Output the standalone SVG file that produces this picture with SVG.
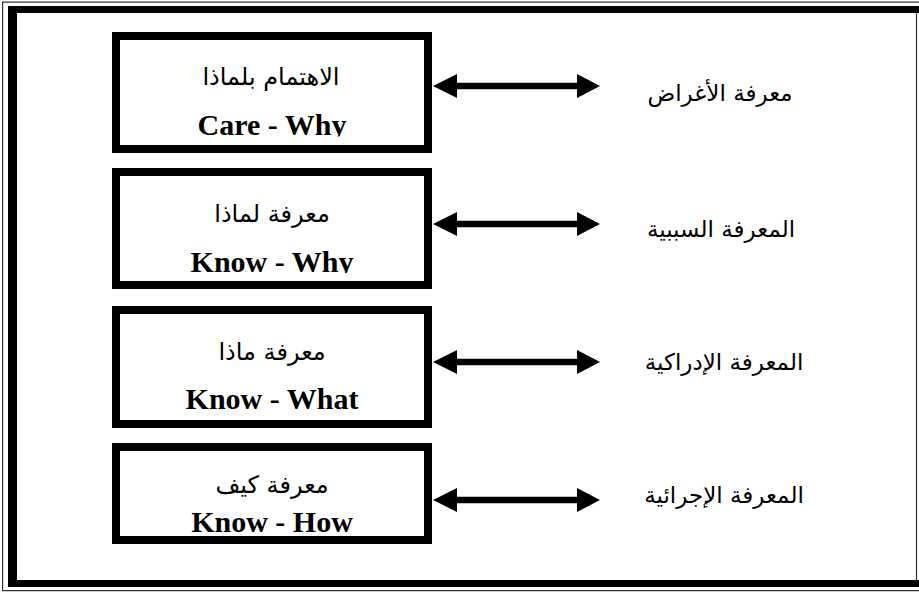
<svg xmlns="http://www.w3.org/2000/svg" width="919" height="594" viewBox="0 0 919 594">
<style>
.box{fill:none;stroke:#000;stroke-width:8}
.ar{font-family:"DejaVu Sans",sans-serif;font-size:24px;fill:#000;text-anchor:middle}
.en{font-family:"Liberation Serif","Times New Roman",serif;font-size:30px;font-weight:bold;fill:#000;text-anchor:middle}
.lbl{font-family:"DejaVu Sans",sans-serif;font-size:23px;fill:#000;text-anchor:middle}
.thin{fill:none;stroke:#333;stroke-width:1.2}
</style>
<defs>
<path id="arr" d="M433,0 L457,-12 L457,-3.3 L577,-3.3 L577,-12 L600,0 L577,12 L577,3.3 L457,3.3 L457,12 Z" fill="#000"/>
<clipPath id="c1"><rect x="120" y="40" width="304" height="96.5"/></clipPath>
<clipPath id="c2"><rect x="120" y="176" width="304" height="97"/></clipPath>
</defs>
<rect width="919" height="594" fill="#fff"/>
<g id="frame">
<path class="thin" d="M930,2.2 L2.6,2.2 L2.6,590.6 L930,590.6"/>
<rect x="8" y="6" width="920" height="7" fill="#000"/>
<rect x="8" y="6" width="9" height="581" fill="#000"/>
<rect x="8" y="580" width="920" height="7" fill="#000"/>
<line class="thin" x1="916.5" y1="13" x2="916.5" y2="580"/>
</g>
<g id="node1">
<text class="ar" x="271" y="85">الاهتمام بلماذا</text>
<text class="en" x="272" y="135" clip-path="url(#c1)">Care - Why</text>
<rect class="box" x="116" y="36" width="312" height="113"/>
</g>
<g id="node2">
<text class="ar" x="272" y="222">معرفة لماذا</text>
<text class="en" x="272" y="272" clip-path="url(#c2)">Know - Why</text>
<rect class="box" x="116" y="172" width="312" height="113"/>
</g>
<g id="node3">
<text class="ar" x="272" y="360">معرفة ماذا</text>
<text class="en" x="272" y="409">Know - What</text>
<rect class="box" x="116" y="310" width="312" height="114"/>
</g>
<g id="node4">
<text class="ar" x="272" y="493">معرفة كيف</text>
<text class="en" x="272" y="532">Know - How</text>
<rect class="box" x="116" y="447" width="312" height="93"/>
</g>
<g id="connectors">
<use href="#arr" transform="translate(0,86)"/>
<use href="#arr" transform="translate(0,224)"/>
<use href="#arr" transform="translate(0,362)"/>
<use href="#arr" transform="translate(0,500)"/>
</g>
<g id="label1"><text class="lbl" x="720" y="101">معرفة الأغراض</text></g>
<g id="label2"><text class="lbl" x="721" y="237">المعرفة السببية</text></g>
<g id="label3"><text class="lbl" x="724" y="370">المعرفة الإدراكية</text></g>
<g id="label4"><text class="lbl" x="724" y="503">المعرفة الإجرائية</text></g>
</svg>
